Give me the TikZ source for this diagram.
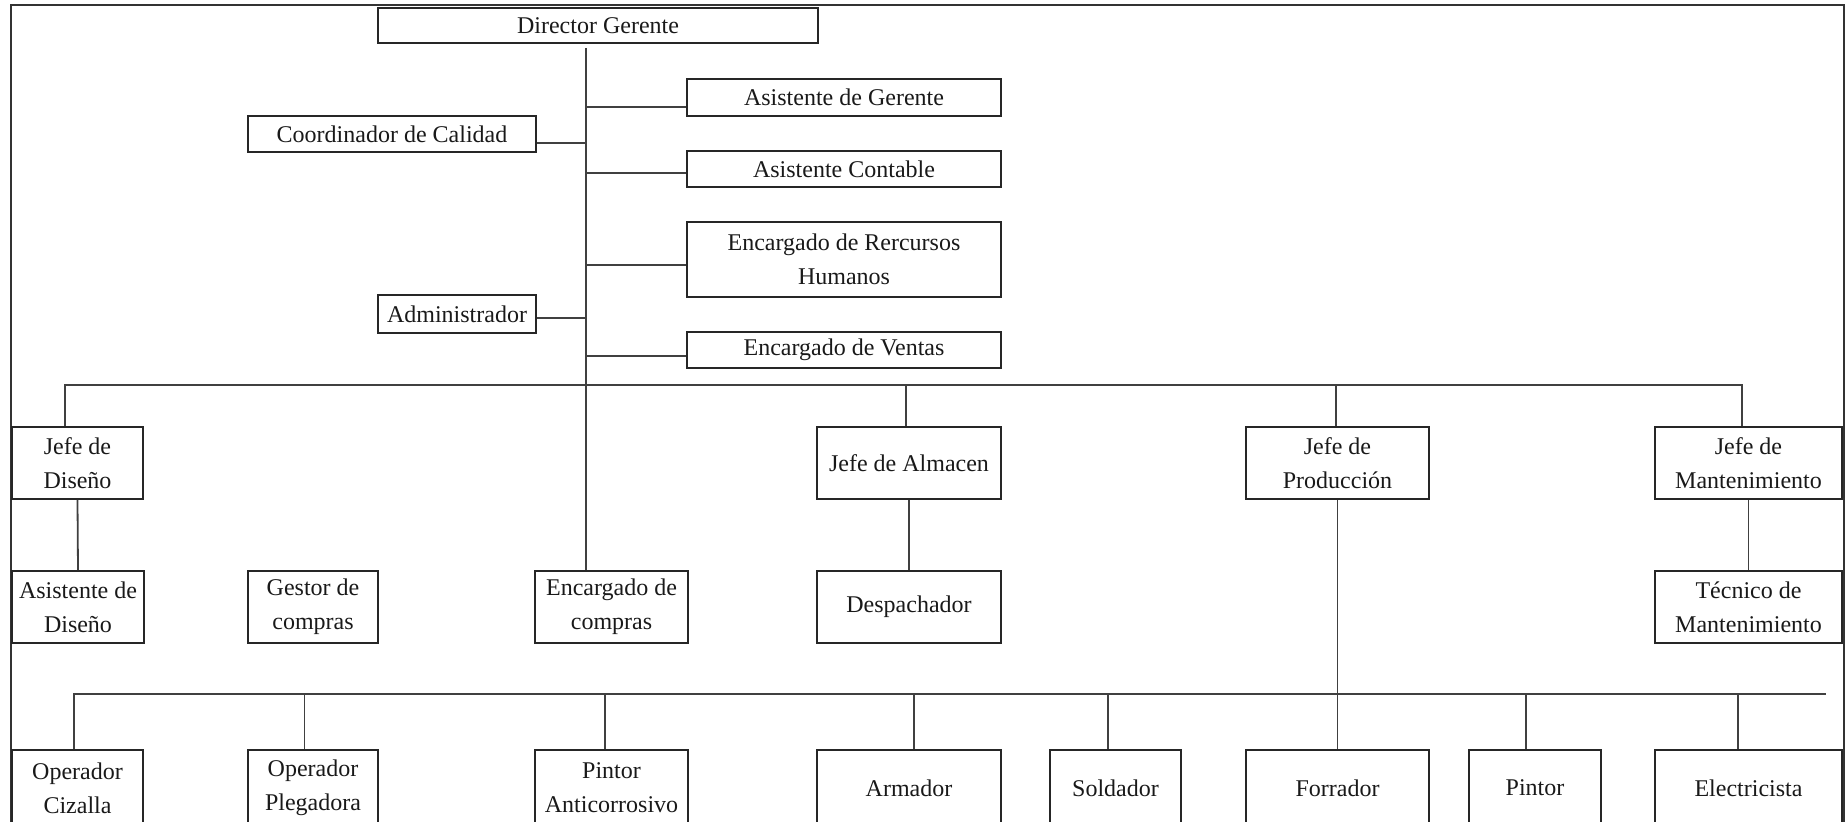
\documentclass[tikz,border=0pt]{standalone}
\usepackage{fontspec}
\setmainfont{Liberation Serif}
\begin{document}
\begin{tikzpicture}[x=0.5pt,y=-0.5pt,
  box/.style={draw=black!85, line width=0.9pt, rectangle, inner sep=0pt, align=center,
    font=\fontsize{12}{17}\selectfont, text=black!90},
  conn/.style={draw=black!75, line width=0.9pt},
  frameline/.style={draw=black!80, line width=1pt}]
\useasboundingbox (0,0) rectangle (1845,822);
\clip (0,0) rectangle (1845,822);
% outer frame
\coordinate (fbl) at (10.7,830);
\coordinate (ftl) at (10.7,5);
\coordinate (ftr) at (1844,5);
\coordinate (fbr) at (1844,830);
\draw[frameline] (fbl) -- (ftl) -- (ftr) -- (fbr);
% nodes
\node[box, minimum width=220pt, minimum height=17.5pt] (dir) at (598,25.5) {Director Gerente};
\node[box, minimum width=157pt, minimum height=18.5pt] (asg) at (844,97.5) {Asistente de Gerente};
\node[box, minimum width=144pt, minimum height=18pt] (coord) at (392,134) {Coordinador de Calidad};
\node[box, minimum width=157pt, minimum height=18pt] (acont) at (844,169) {Asistente Contable};
\node[box, minimum width=157pt, minimum height=37.5pt] (rrhh) at (844,259.5) {Encargado de Rercursos\\Humanos};
\node[box, minimum width=79pt, minimum height=19pt] (admin) at (457,314) {Administrador};
\node[box, minimum width=157pt, minimum height=18pt] (ventas) at (844,350) {Encargado de Ventas};
\node[box, minimum width=65.5pt, minimum height=36pt] (jdis) at (77.5,463) {Jefe de\\Diseño};
\node[box, minimum width=92pt, minimum height=36pt] (jalm) at (909,463) {Jefe de Almacen};
\node[box, minimum width=91.5pt, minimum height=36pt] (jprod) at (1337.5,463) {Jefe de\\Producción};
\node[box, minimum width=93.5pt, minimum height=36pt] (jmant) at (1748.5,463) {Jefe de\\Mantenimiento};
\node[box, minimum width=66pt, minimum height=36pt] (adis) at (78,607) {Asistente de\\Diseño};
\node[box, minimum width=65pt, minimum height=36pt] (gestor) at (313,607) {Gestor de\\compras};
\node[box, minimum width=76.5pt, minimum height=36pt] (enccomp) at (611.5,607) {Encargado de\\compras};
\node[box, minimum width=92pt, minimum height=36pt] (desp) at (909,607) {Despachador};
\node[box, minimum width=93.5pt, minimum height=36pt] (tecn) at (1748.5,607) {Técnico de\\Mantenimiento};
\node[box, minimum width=65.5pt, minimum height=38pt] (opciz) at (77.5,788) {Operador\\Cizalla};
\node[box, minimum width=65pt, minimum height=38pt] (opple) at (313,788) {Operador\\Plegadora};
\node[box, minimum width=76.5pt, minimum height=38pt] (pantic) at (611.5,788) {Pintor\\Anticorrosivo};
\node[box, minimum width=92pt, minimum height=38pt] (armador) at (909,788) {Armador};
\node[box, minimum width=65.5pt, minimum height=38pt] (soldador) at (1115.5,788) {Soldador};
\node[box, minimum width=91.5pt, minimum height=38pt] (forrador) at (1337.5,788) {Forrador};
\node[box, minimum width=66pt, minimum height=38pt] (pintor) at (1535,788) {Pintor};
\node[box, minimum width=93.5pt, minimum height=38pt] (electr) at (1748.5,788) {Electricista};
% main vertical
\coordinate (mtop) at (586,48);
\draw[conn] (mtop) -- (mtop |- enccomp.north);
% side branches
\coordinate (b1) at (586,107);
\coordinate (b2) at (586,143);
\coordinate (b3) at (586,173);
\coordinate (b4) at (586,265);
\coordinate (b5) at (586,318);
\coordinate (b6) at (586,356);
\draw[conn] (b1) -- (b1 -| asg.west);
\draw[conn] (b2) -- (b2 -| coord.east);
\draw[conn] (b3) -- (b3 -| acont.west);
\draw[conn] (b4) -- (b4 -| rrhh.west);
\draw[conn] (b5) -- (b5 -| admin.east);
\draw[conn] (b6) -- (b6 -| ventas.west);
% top bus
\coordinate (busL) at (65,385);
\coordinate (busR) at (1742,385);
\coordinate (dA) at (906,385);
\coordinate (dP) at (1336,385);
\draw[conn] (busL |- jdis.north) -- (busL) -- (busR) -- (busR |- jmant.north);
\draw[conn] (dA) -- (dA |- jalm.north);
\draw[conn] (dP) -- (dP |- jprod.north);
% sub links
\draw[conn] (jdis.south) -- (adis.north);
\draw[conn] (jalm.south) -- (desp.north);
\draw[conn] (jmant.south) -- (tecn.north);
\draw[conn] (jprod.south) -- (forrador.north);
% bottom bus
\coordinate (bbL) at (74,694);
\coordinate (bbR) at (1826,694);
\draw[conn] (bbL |- opciz.north) -- (bbL) -- (bbR);
\coordinate (e2) at (304.5,694);
\coordinate (e3) at (605,694);
\coordinate (e4) at (913.6,694);
\coordinate (e5) at (1108,694);
\coordinate (e7) at (1526,694);
\coordinate (e8) at (1738,694);
\draw[conn] (e2) -- (e2 |- opple.north);
\draw[conn] (e3) -- (e3 |- pantic.north);
\draw[conn] (e4) -- (e4 |- armador.north);
\draw[conn] (e5) -- (e5 |- soldador.north);
\draw[conn] (e7) -- (e7 |- pintor.north);
\draw[conn] (e8) -- (e8 |- electr.north);
\end{tikzpicture}
\end{document}
